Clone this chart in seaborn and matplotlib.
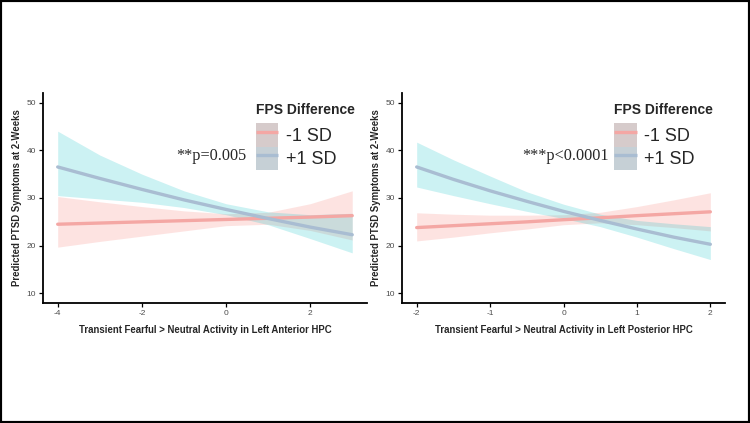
import numpy as np
import pandas as pd
import seaborn as sns
from matplotlib import pyplot as plt
from matplotlib.patches import Patch, Rectangle
from matplotlib.lines import Line2D

# left panel: anterior HPC
ant_x = [-4, -3, -2, -1, 0, 1, 2, 3]
ant_low_fit = [24.5, 24.75, 25.0, 25.25, 25.5, 25.75, 26.0, 26.3]
ant_low_lo = [19.7, 20.9, 22.0, 23.1, 24.2, 24.5, 23.2, 21.2]
ant_low_hi = [30.3, 29.2, 28.2, 27.3, 26.7, 27.0, 28.8, 31.5]
ant_high_fit = [36.5, 34.1, 31.8, 29.6, 27.6, 25.7, 23.9, 22.3]
ant_high_lo = [30.5, 29.8, 29.1, 28.0, 26.5, 24.4, 21.5, 18.5]
ant_high_hi = [44.0, 39.0, 35.0, 31.5, 28.8, 27.1, 26.5, 26.8]

# right panel: posterior HPC
post_x = [-2, -1.5, -1, -0.5, 0, 0.5, 1, 1.5, 2]
post_low_fit = [23.8, 24.2, 24.6, 25.0, 25.45, 25.85, 26.3, 26.7, 27.1]
post_low_lo = [21.0, 21.8, 22.7, 23.5, 24.4, 24.8, 24.4, 23.8, 23.1]
post_low_hi = [26.9, 26.6, 26.4, 26.4, 26.5, 27.0, 28.2, 29.6, 31.1]
post_high_fit = [36.5, 33.9, 31.5, 29.3, 27.2, 25.3, 23.5, 21.8, 20.3]
post_high_lo = [32.3, 30.5, 28.8, 27.2, 25.7, 24.0, 21.8, 19.4, 17.1]
post_high_hi = [41.7, 38.0, 34.6, 31.3, 28.7, 26.6, 25.3, 24.6, 24.0]

groups = ['-1 SD', '+1 SD']
y_ticks = [10, 20, 30, 40, 50]

line_col = {'-1 SD': '#F4A7A4', '+1 SD': '#A9BDD2'}
band_col = {'-1 SD': '#F8766D', '+1 SD': '#00BFC4'}
key_col = {'-1 SD': '#D6CBCB', '+1 SD': '#C6D0D6'}

sns.set_style('white')
plt.rcParams['font.family'] = ['Liberation Sans', 'DejaVu Sans']
plt.rcParams['axes.unicode_minus'] = False

fig = plt.figure(figsize=(7.5, 4.23), dpi=100)


def make_df(x, low_fit, high_fit):
    return pd.DataFrame({
        'x': list(x) + list(x),
        'y': list(low_fit) + list(high_fit),
        'FPS': ['-1 SD'] * len(x) + ['+1 SD'] * len(x),
    })


def draw_panel(ax, x, low, high, xticks, xlabel, ptext, ptext_x):
    (low_fit, low_lo, low_hi) = low
    (high_fit, high_lo, high_hi) = high
    ax.fill_between(x, low_lo, low_hi, color=band_col['-1 SD'], alpha=0.2, lw=0)
    ax.fill_between(x, high_lo, high_hi, color=band_col['+1 SD'], alpha=0.2, lw=0)
    df = make_df(x, low_fit, high_fit)
    sns.lineplot(data=df, x='x', y='y', hue='FPS', hue_order=groups,
                 palette=line_col, linewidth=2.4, ax=ax, legend=False)

    rng = max(x) - min(x)
    ax.set_xlim(min(x) - 0.05 * rng, max(x) + 0.05 * rng)
    ax.set_ylim(8, 52)
    ax.set_xticks(xticks)
    ax.set_yticks(y_ticks)
    for s in ['top', 'right']:
        ax.spines[s].set_visible(False)
    for s in ['left', 'bottom']:
        ax.spines[s].set_color('black')
        ax.spines[s].set_linewidth(1.3)
    ax.tick_params(axis='both', length=3, width=0.9, color='black',
                   labelsize=6, labelcolor='#4D4D4D', pad=2,
                   bottom=True, left=True)
    ax.set_xlabel(xlabel, fontsize=6.9, fontweight='bold', labelpad=6)
    ax.set_ylabel('Predicted PTSD Symptoms at 2-Weeks', fontsize=6.9,
                  fontweight='bold', labelpad=3.5)

    handles = []
    for g in groups:
        handles.append((Patch(facecolor=key_col[g], edgecolor='none'),
                        Line2D([], [], color=line_col[g], lw=2.4,
                               solid_capstyle='butt')))
    leg = ax.legend(handles, groups, title='FPS Difference', loc='upper left',
                    bbox_to_anchor=(0.618, 1.012), frameon=False, fontsize=13,
                    handlelength=1.25, handleheight=1.6, handletextpad=0.4,
                    labelspacing=0.0, borderaxespad=0.3)
    leg.get_title().set_fontsize(10)
    leg.get_title().set_fontweight('bold')
    leg._legend_box.align = 'left'
    leg._legend_box.sep = 4.5

    ax.text(ptext_x, 156, ptext, transform=None, fontsize=11.7,
            family=['Liberation Serif', 'DejaVu Serif'], va='center', ha='right')


ax1 = fig.add_axes([0.0573, 0.2837, 0.432, 0.4965])
ax2 = fig.add_axes([0.536, 0.2837, 0.4307, 0.4965])

draw_panel(ax1, ant_x, (ant_low_fit, ant_low_lo, ant_low_hi),
           (ant_high_fit, ant_high_lo, ant_high_hi), [-4, -2, 0, 2],
           'Transient Fearful > Neutral Activity in Left Anterior HPC',
           '**p=0.005', 246)
draw_panel(ax2, post_x, (post_low_fit, post_low_lo, post_low_hi),
           (post_high_fit, post_high_lo, post_high_hi), [-2, -1, 0, 1, 2],
           'Transient Fearful > Neutral Activity in Left Posterior HPC',
           '***p<0.0001', 609)

# place p-value texts in pixel coords (top-left origin of reference)
for t in fig.findobj(lambda o: hasattr(o, 'get_text') and o.get_text().endswith(('005', '0001'))):
    x_px, y_px = t.get_position()
    t.set_transform(fig.transFigure)
    t.set_position((x_px / 750, 1 - y_px / 423))

fig.patches.append(Rectangle((0, 0), 1, 1, transform=fig.transFigure,
                             fill=False, edgecolor='black', linewidth=3))

fig.savefig('out.png', dpi=100)
